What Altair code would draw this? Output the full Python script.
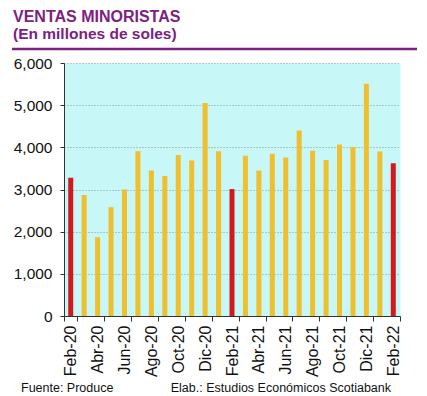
import altair as alt
import pandas as pd

months = ["Feb-20", "Mar-20", "Abr-20", "May-20", "Jun-20", "Jul-20", "Ago-20", "Sep-20",
          "Oct-20", "Nov-20", "Dic-20", "Ene-21", "Feb-21", "Mar-21", "Abr-21", "May-21",
          "Jun-21", "Jul-21", "Ago-21", "Sep-21", "Oct-21", "Nov-21", "Dic-21", "Ene-22", "Feb-22"]
values = [3280, 2870, 1870, 2580, 3000, 3910, 3450, 3320, 3820, 3690, 5050, 3910,
          3010, 3800, 3450, 3850, 3760, 4400, 3920, 3700, 4070, 4000, 5510, 3900, 3620]
label_months = months[::2]
y_ticks = [0, 1000, 2000, 3000, 4000, 5000, 6000]

title_text = "VENTAS MINORISTAS"
subtitle_text = "(En millones de soles)"
source_text = "Fuente: Produce"
credit_text = "Elab.: Estudios Económicos Scotiabank"

df = pd.DataFrame({
    "mes": months,
    "ventas": values,
    "tipo": ["feb" if m.startswith("Feb") else "otro" for m in months],
})

FONT = "Liberation Sans"
PURPLE = "#7D2180"
GOLD = "#EFBF2E"
RED = "#D2191C"

bars = alt.Chart(df).mark_bar(size=5).encode(
    x=alt.X("mes:N", sort=months,
            scale=alt.Scale(paddingInner=0, paddingOuter=0),
            axis=alt.Axis(values=label_months, tickBand="extent", labelAngle=270,
                          labelFontSize=16, labelFont=FONT, labelColor="#111",
                          tickSize=5, labelPadding=4, domainColor="#333",
                          tickColor="#333", title=None, grid=False)),
    y=alt.Y("ventas:Q", scale=alt.Scale(domain=[0, 6000], nice=False),
            axis=alt.Axis(values=y_ticks, format=",.0f", grid=True, gridDash=[1, 2],
                          gridColor="#8a9a9a", tickSize=4, labelPadding=8,
                          labelFontSize=15.5, labelFont=FONT, labelColor="#111",
                          domainColor="#333", tickColor="#333", title=None)),
    color=alt.Color("tipo:N", scale=alt.Scale(domain=["feb", "otro"], range=[RED, GOLD]),
                    legend=None),
)


def text_layer(txt, x, y, size, bold=False, color="#111", align="left"):
    return alt.Chart(pd.DataFrame({"t": [txt]})).mark_text(
        font=FONT, fontSize=size, fontWeight="bold" if bold else "normal",
        color=color, align=align, baseline="alphabetic"
    ).encode(text="t:N", x=alt.value(x), y=alt.value(y))


title = text_layer(title_text, -51, -41, 16, True, PURPLE)
subtitle = text_layer(subtitle_text, -51, -24, 15.5, True, PURPLE)
source = text_layer(source_text, -43, 329, 12.5)
credit = text_layer(credit_text, 327, 329, 12.5, align="right")

line = alt.Chart(pd.DataFrame({"a": [0]})).mark_rule(
    color=PURPLE, strokeWidth=2.5
).encode(x=alt.value(-52), x2=alt.value(353), y=alt.value(-14))

chart = alt.layer(bars, line, title, subtitle, source, credit).properties(
    width=336, height=253,
    padding={"left": 56, "top": 55, "right": 19, "bottom": 78},
    autosize=alt.AutoSizeParams(type="none"),
    background="white",
).configure_view(fill="#C8F7F8", stroke="transparent")

chart.save("out.html", embed_options={"renderer": "svg", "actions": False})
